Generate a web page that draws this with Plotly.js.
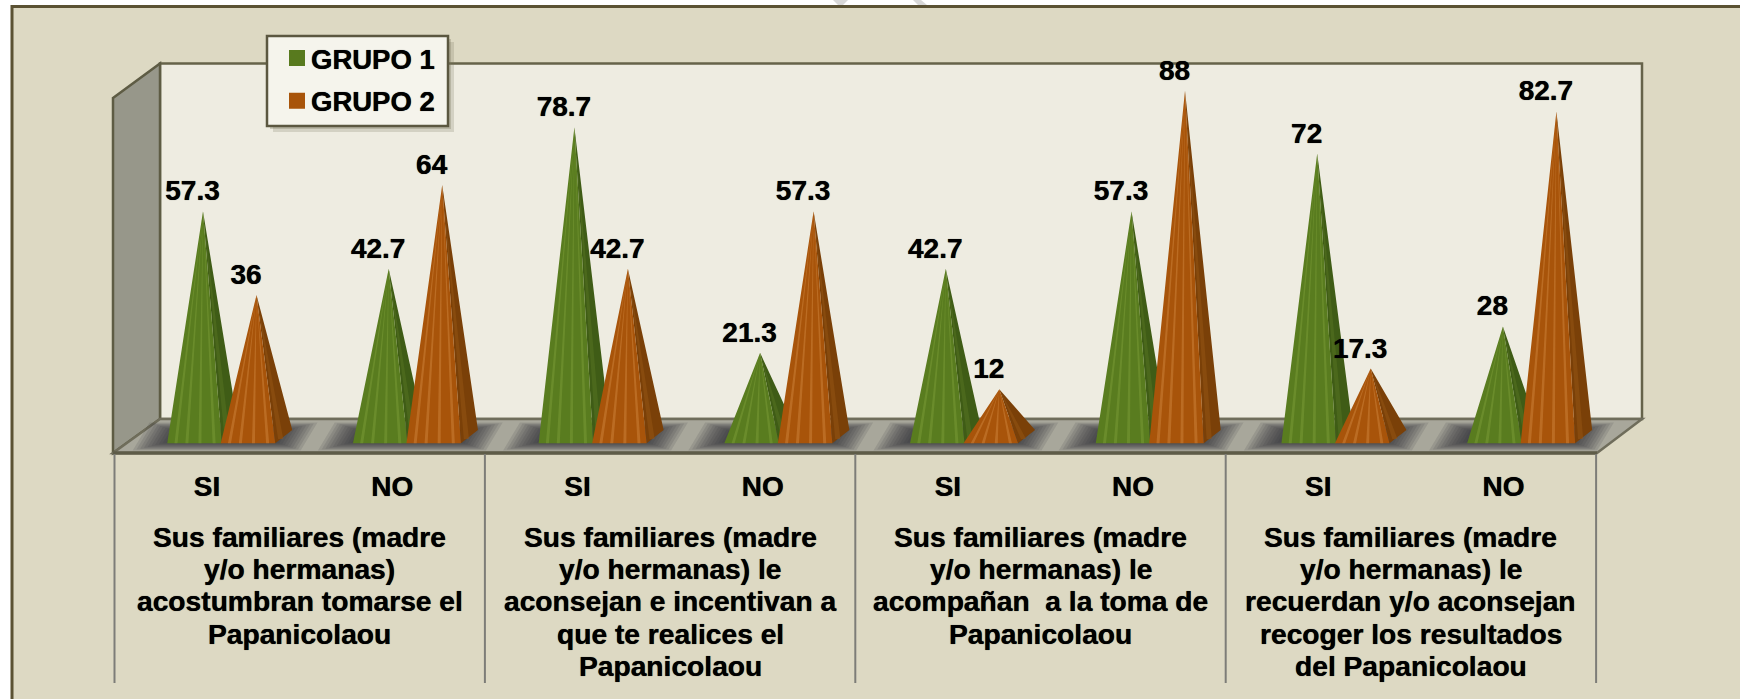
<!DOCTYPE html>
<html><head><meta charset="utf-8">
<script src="https://cdn.plot.ly/plotly-3.0.1.min.js"></script>
<style>html,body{margin:0;padding:0;background:#fff}#c{width:1740px;height:699px}</style>
</head><body><div id="c"></div>
<script>
const categories = ["SI","NO","SI","NO","SI","NO","SI","NO"];
const grupo1 = [57.3,42.7,78.7,21.3,42.7,57.3,72,28];
const grupo2 = [36,64,42.7,57.3,12,88,17.3,82.7];
const seriesNames = ["GRUPO 1","GRUPO 2"];
const groupLabels = [
 ["Sus familiares (madre","y/o hermanas)","acostumbran tomarse el","Papanicolaou"],
 ["Sus familiares (madre","y/o hermanas) le","aconsejan e incentivan a","que te realices el","Papanicolaou"],
 ["Sus familiares (madre","y/o hermanas) le","acompañan  a la toma de","Papanicolaou"],
 ["Sus familiares (madre","y/o hermanas) le","recuerdan y/o aconsejan","recoger los resultados","del Papanicolaou"]
];

const W=1740,H=699,FLOOR=453;
const X0=207.1,PITCH=185.2,PYR_PITCH=185.7,Y0=436.5,UNIT=3.93;
const xd=p=>(p-X0)/PITCH, yd=p=>(Y0-p)/UNIT;
const xr=[xd(0),xd(W)], yr=[yd(FLOOR),yd(0)];
const mkFont=s=>({family:'"Liberation Sans",Arial,sans-serif',size:s,color:'#000',weight:700,shadow:'0 0 0.7px #000'});
const FONT=mkFont(28), GFONT=mkFont(28.2), LFONT=mkFont(27.5);

function pyr(vals,off){
  const out={front:{x:[],y:[]},right:{x:[],y:[]},sf:{x:[],y:[]},sr:{x:[],y:[]},lx:[],ly:[]};
  const HALF=27.25,DX=17,FY=yd(443.3),BY=yd(430);
  const add=(t,xs,ys)=>{t.x.push(...xs,null);t.y.push(...ys,null);};
  vals.forEach((v,i)=>{
    const cx=X0+i*PYR_PITCH+off;
    const fl=cx-8.5-HALF, fr=cx-8.5+HALF;
    add(out.front,[xd(fl),xd(fr),xd(cx)],[FY,FY,v]);
    add(out.right,[xd(fr),xd(fr+DX),xd(cx)],[FY,BY,v]);
    [0.16,0.36,0.6,0.86].forEach(f=>{
      const b=fl+f*2*HALF;
      add(out.sf,[xd(b-1.5),xd(b+1.5),xd(cx)],[FY,FY,v]);
    });
    [[0.32,2.6]].forEach(([f,w])=>{
      const b=fr+f*DX, by=443.3-f*13.3;
      add(out.sr,[xd(b-w),xd(b+w),xd(cx)],[yd(by),yd(by),v]);
    });
    out.lx.push(xd(cx-10.5)); out.ly.push(v+18/UNIT);
  });
  return out;
}
const poly=(t,color)=>({type:'scatter',mode:'lines',x:t.x,y:t.y,fill:'toself',fillcolor:color,line:{width:0,color:color},hoverinfo:'skip',showlegend:false});
function seriesTraces(vals,off,c){
  const p=pyr(vals,off);
  return {traces:[poly(p.right,c.right),poly(p.sr,c.rstreak),poly(p.front,c.front),poly(p.sf,c.streak)],p};
}
const G=seriesTraces(grupo1,-4.1,{front:'#597c1f',right:'#3f5c16',streak:'rgba(132,165,62,0.4)',rstreak:'rgba(90,120,35,0.45)'});
const O=seriesTraces(grupo2,49.4,{front:'#a8540a',right:'#7a4008',streak:'rgba(214,142,72,0.42)',rstreak:'rgba(150,85,20,0.5)'});

const legendTrace=(name,color,g)=>({type:'scatter',mode:'markers',x:[null],y:[null],name:name,legendgroup:g,marker:{symbol:'square',size:16,color:color},hoverinfo:'skip'});
const labelTrace=(p,vals)=>({type:'scatter',mode:'text',x:p.lx,y:p.ly,text:vals.map(String),textposition:'middle center',textfont:FONT,hoverinfo:'skip',showlegend:false,cliponaxis:false});

const data=[...G.traces,...O.traces,labelTrace(G.p,grupo1),labelTrace(O.p,grupo2),
  legendTrace(seriesNames[0],'#587a1e','g1'),legendTrace(seriesNames[1],'#a8540a','g2')];

// chart furniture, given in page pixels and converted to paper coordinates
const px=p=>p/W, py=p=>(FLOOR-p)/FLOOR;
const path=pts=>'M'+pts.map(q=>px(q[0])+','+py(q[1])).join('L')+'Z';
const shp=(pts,fill,line,lw,op)=>({type:'path',xref:'paper',yref:'paper',layer:'below',path:path(pts),fillcolor:fill,opacity:op==null?1:op,line:{color:line||'rgba(0,0,0,0)',width:lw||0}});
const shapes=[];
shapes.push(shp([[12,6.5],[1760,6.5],[1760,720],[12,720]],'#ddd9c3','#5b5233',3));
shapes.push(shp([[833,0],[848,0],[843,5],[838,5]],'#d8d8d8'));
shapes.push(shp([[913,0],[921,0],[927,5],[918,5]],'#d8d8d8'));
shapes.push(shp([[160,63.5],[1642,63.5],[1642,419],[160,419]],'#eeece1','#66634a',2.5));
shapes.push(shp([[113,98],[160,63.5],[160,419],[113,453]],'#97978a','#5e5c44',2.5));
shapes.push(shp([[113,453],[160,419],[1642,419],[1597,453]],'#a8a79b','#6f6d5b',2.5));
for(let i=0;i<8;i++){
  const c=X0+i*PITCH+18;
  for(let k=0;k<12;k++){
    const hw=84-k*3.2, t=422.5+k*0.9, b=450.5-k*0.9, sk=(b-t)*0.6;
    shapes.push(shp([[c-hw-sk/2,b],[c+hw-sk/2,b],[c+hw+sk/2,t],[c-hw+sk/2,t]],'#2c2c34',null,0,0.12));
  }
}
shapes.push({type:'line',xref:'paper',yref:'paper',layer:'below',x0:px(113),x1:px(1597),y0:py(453),y1:py(453),line:{color:'#5e5c48',width:3.5}});
for(let k=0;k<=4;k++){
  const x=114.5+k*370.4;
  shapes.push({type:'line',xref:'paper',yref:'paper',layer:'below',x0:px(x),x1:px(x),y0:py(454),y1:py(683),line:{color:'#7d7d78',width:2}});
}
// legend box
shapes.push(shp([[273,42],[454,42],[454,132],[273,132]],'#77735a',null,0,0.22));
shapes.push(shp([[270,39],[451,39],[451,129],[270,129]],'#77735a',null,0,0.3));
shapes.push(shp([[267,36],[448,36],[448,126],[267,126]],'#f5f4ec','#5b5740',2.5));

const annotations=[];
groupLabels.forEach((lines,g)=>lines.forEach((t,l)=>{
  annotations.push({xref:'paper',yref:'paper',x:px(114.5+(g+0.5)*370.4),y:py(536.5+l*32.4),text:t,showarrow:false,xanchor:'center',yanchor:'middle',font:GFONT});
}));

const layout={width:W,height:H,margin:{l:0,r:0,t:0,b:H-FLOOR,pad:0},paper_bgcolor:'#fff',plot_bgcolor:'rgba(0,0,0,0)',
  xaxis:{range:xr,type:'linear',tickmode:'array',tickvals:categories.map((_,i)=>i),ticktext:categories,showgrid:false,zeroline:false,showline:false,ticks:'',ticklabelstandoff:14,tickfont:FONT,fixedrange:true},
  yaxis:{range:yr,type:'linear',visible:false,fixedrange:true},
  showlegend:true,
  legend:{x:px(271),y:py(33.6),xanchor:'left',yanchor:'top',bgcolor:'rgba(0,0,0,0)',borderwidth:0,font:LFONT,tracegroupgap:4,itemclick:false,itemdoubleclick:false},
  shapes,annotations,hovermode:false};
Plotly.newPlot('c',data,layout,{displayModeBar:false,staticPlot:true}).then(()=>{
  document.querySelectorAll('.legend .legendsymbols').forEach(n=>n.setAttribute('transform','translate(6,0)'));
});
</script></body></html>
